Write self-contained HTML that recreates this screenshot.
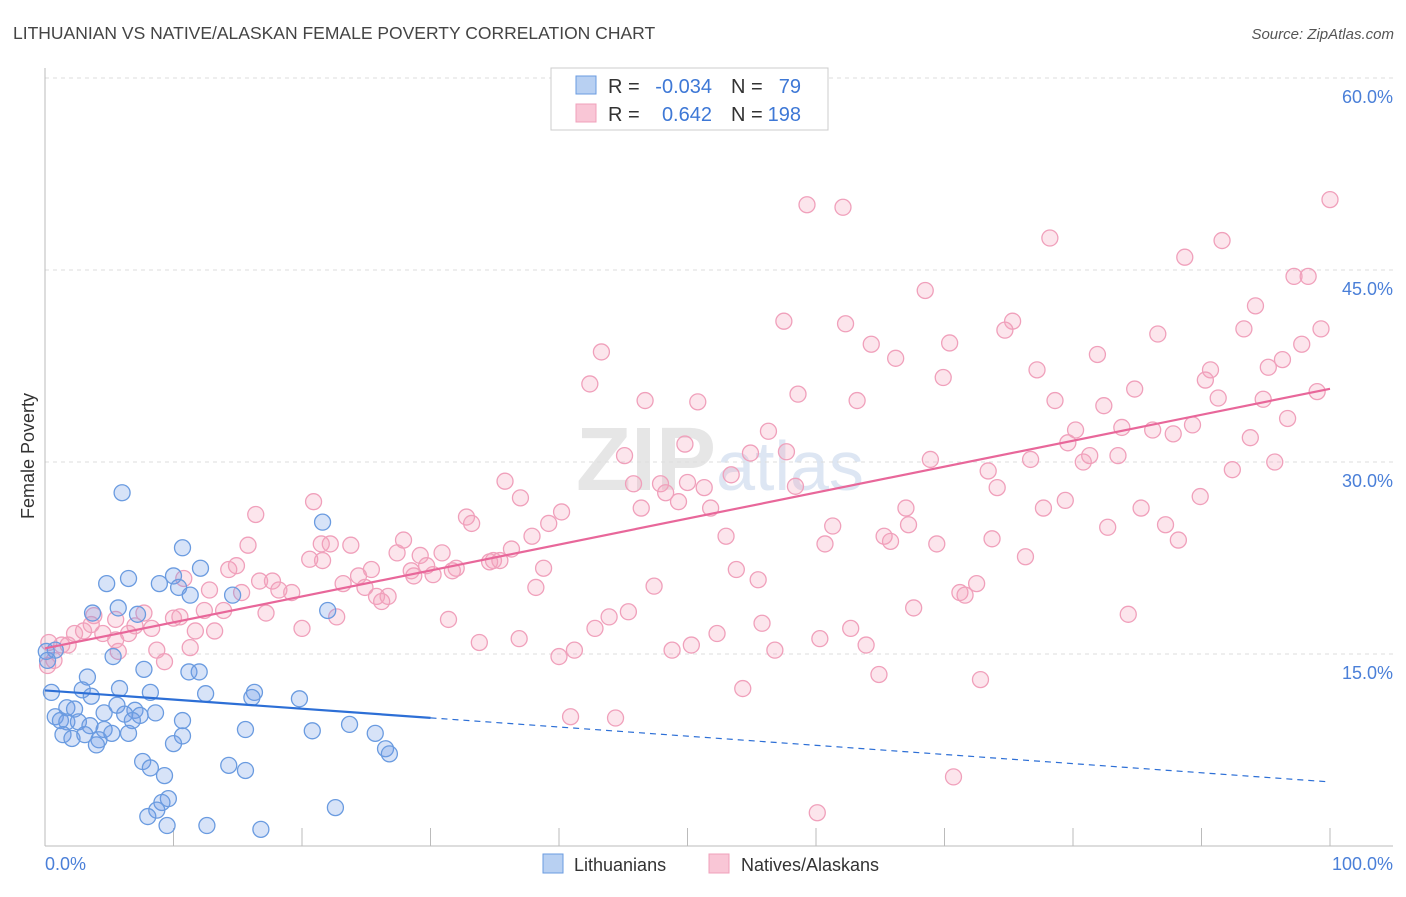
<!DOCTYPE html>
<html><head><meta charset="utf-8"><style>
body{margin:0;background:#fff;font-family:"Liberation Sans",sans-serif;}
svg text{font-family:"Liberation Sans",sans-serif;}
</style></head><body>
<svg id="chart" width="1406" height="892" xmlns="http://www.w3.org/2000/svg">
<text x="13" y="39" font-size="17.5" fill="#444">LITHUANIAN VS NATIVE/ALASKAN FEMALE POVERTY CORRELATION CHART</text>
<text x="1394" y="39" font-size="15" fill="#555" text-anchor="end" font-style="italic">Source: ZipAtlas.com</text>
<text x="720" y="490" font-size="90" fill="#e6e6e6" text-anchor="middle" font-family="Liberation Serif"><tspan font-weight="bold">ZIP</tspan><tspan fill="#dde6f3" font-family="Liberation Sans" font-size="70">atlas</tspan></text>
<g id="grid"></g>
<g id="axes"></g>
<g id="pts"></g>
<g id="lines"></g>
<text transform="translate(34,456) rotate(-90)" font-size="18" fill="#333" text-anchor="middle">Female Poverty</text>
<text x="45" y="870" font-size="18" fill="#4a7fd8">0.0%</text>
<text x="1393" y="870" font-size="18" fill="#4a7fd8" text-anchor="end">100.0%</text>
<g>
<rect x="551" y="68" width="277" height="62" fill="#fff" stroke="#ccc"/>
<rect x="576" y="76" width="20" height="18" fill="#b8d0f2" stroke="#6a9be0"/>
<rect x="576" y="104" width="20" height="18" fill="#f9c6d6" stroke="#f0a0bb"/>
<text x="608" y="93" font-size="20" fill="#333">R =</text>
<text x="712" y="93" font-size="20" fill="#3e78d6" text-anchor="end">-0.034</text>
<text x="731" y="93" font-size="20" fill="#333">N =</text>
<text x="801" y="93" font-size="20" fill="#3e78d6" text-anchor="end">79</text>
<text x="608" y="121" font-size="20" fill="#333">R =</text>
<text x="712" y="121" font-size="20" fill="#3e78d6" text-anchor="end">0.642</text>
<text x="731" y="121" font-size="20" fill="#333">N =</text>
<text x="801" y="121" font-size="20" fill="#3e78d6" text-anchor="end">198</text>
</g>
<g><rect x="543" y="854" width="20" height="19" fill="#b8d0f2" stroke="#6a9be0"/><text x="574" y="871" font-size="18" fill="#333">Lithuanians</text></g>
<g><rect x="709" y="854" width="20" height="19" fill="#f9c6d6" stroke="#f0a0bb"/><text x="741" y="871" font-size="18" fill="#333">Natives/Alaskans</text></g>
</svg>
<script>
const yTicks=[15,30,45,60];
const yTickLabels=["15.0%","30.0%","45.0%","60.0%"];
const blueX=[6.0,10.7,6.5,4.8,8.9,10.0,12.1,10.4,11.3,14.6,21.6,3.7,5.7,7.2,22.0,5.3,7.7,11.2,12.0,3.3,0.8,0.5,2.9,3.6,5.8,8.2,12.5,16.3,19.8,16.1,1.7,2.3,4.6,5.6,7.0,6.2,7.4,8.6,0.8,1.2,1.7,2.6,10.7,6.8,3.5,4.6,5.2,1.4,2.1,3.1,4.2,6.5,10.7,15.6,20.8,23.7,25.7,4.0,10.0,26.5,26.8,7.6,8.2,9.3,14.3,15.6,9.6,9.1,8.7,8.0,9.5,12.6,16.8,22.6,0.2,0.1];
const blueY=[27.6,23.3,20.9,20.5,20.5,21.1,21.7,20.2,19.6,19.6,25.3,18.2,18.6,18.1,18.4,14.8,13.8,13.6,13.6,13.2,15.3,12.0,12.2,11.7,12.3,12.0,11.9,12.0,11.5,11.6,10.8,10.7,10.4,11.0,10.6,10.3,10.2,10.4,10.1,9.8,9.7,9.7,9.8,9.8,9.4,9.1,8.8,8.7,8.4,8.7,8.3,8.8,8.6,9.1,9.0,9.5,8.8,7.9,8.0,7.6,7.2,6.6,6.1,5.5,6.3,5.9,3.7,3.4,2.8,2.3,1.6,1.6,1.3,3.0,14.5,15.2];
const pinkX=[100,59.3,62.1,78.2,91.6,88.7,97.2,98.3,68.5,94.2,57.5,75.3,62.3,74.7,93.3,99.3,86.6,64.3,70.4,97.8,43.3,66.2,81.9,96.3,95.2,77.2,90.7,69.9,90.3,42.4,84.8,58.6,63.2,78.6,91.3,94.8,99.0,46.7,50.8,82.4,96.7,56.3,80.2,83.8,86.2,89.3,79.6,49.8,54.9,57.7,93.8,81.3,83.5,87.8,80.8,76.7,68.9,45.1,95.7,92.4,73.4,53.4,45.8,47.9,35.8,50.0,48.3,51.3,58.4,74.1,37.0,49.3,20.9,51.8,89.9,79.4,32.8,33.2,46.4,67.0,77.7,85.3,16.4,40.2,67.2,61.3,39.2,82.7,87.2,37.9,65.3,53.0,65.8,60.7,69.4,73.7,88.2,15.8,21.5,22.2,23.8,27.9,36.3,27.4,20.6,21.6,29.2,30.9,34.9,34.6,35.4,76.3,14.9,14.3,25.4,28.5,29.7,32.0,38.8,53.8,30.2,31.7,28.7,10.8,16.7,17.7,24.4,23.2,55.5,72.5,47.4,38.2,18.2,19.2,24.9,26.7,25.8,26.2,15.3,12.8,71.2,71.6,67.6,12.4,13.9,17.2,7.7,22.7,43.9,45.4,84.3,10.0,10.5,31.4,3.8,5.5,20.0,3.6,7.0,8.3,11.7,13.2,55.8,42.8,62.7,52.3,60.3,36.9,2.3,3.0,4.5,6.5,5.5,1.3,1.8,33.8,63.9,11.3,5.7,8.7,41.2,48.8,50.3,56.8,40.0,9.3,0.7,0.2,64.9,72.8,54.3,40.9,44.4,70.7,60.1,0.3];
const pinkY=[50.5,50.1,49.9,47.5,47.3,46.0,44.5,44.5,43.4,42.2,41.0,41.0,40.8,40.3,40.4,40.4,40.0,39.2,39.3,39.2,38.6,38.1,38.4,38.0,37.4,37.2,37.2,36.6,36.4,36.1,35.7,35.3,34.8,34.8,35.0,34.9,35.5,34.8,34.7,34.4,33.4,32.4,32.5,32.7,32.5,32.9,31.5,31.4,30.7,30.8,31.9,30.5,30.5,32.2,30.0,30.2,30.2,30.5,30.0,29.4,29.3,29.0,28.3,28.3,28.5,28.4,27.6,28.0,28.1,28.0,27.2,26.9,26.9,26.4,27.3,27.0,25.7,25.2,26.4,26.4,26.4,26.4,25.9,26.1,25.1,25.0,25.2,24.9,25.1,24.2,24.2,24.2,23.8,23.6,23.6,24.0,23.9,23.5,23.6,23.6,23.5,23.9,23.2,22.9,22.4,22.3,22.7,22.9,22.3,22.2,22.3,22.6,21.9,21.6,21.6,21.5,21.9,21.7,21.7,21.6,21.2,21.5,21.1,20.9,20.7,20.7,21.1,20.5,20.8,20.5,20.3,20.2,20.0,19.8,20.2,19.5,19.5,19.1,19.8,20.0,19.8,19.6,18.6,18.4,18.4,18.2,18.2,17.9,17.9,18.3,18.1,17.8,17.9,17.7,18.0,17.7,17.0,17.3,17.2,17.0,16.8,16.8,17.4,17.0,17.0,16.6,16.2,16.2,16.6,16.8,16.6,16.6,16.1,15.7,15.7,15.9,15.7,15.5,15.2,15.3,15.3,15.3,15.7,15.3,14.8,14.4,14.5,14.1,13.4,13.0,12.3,10.1,10.0,5.4,2.6,15.9];
const NS="http://www.w3.org/2000/svg";
const X0=45,X1=1330,Y0=846,Y60=78;
function sx(v){return X0+(X1-X0)*v/100;}
function sy(v){return Y0-(Y0-Y60)*v/60;}
function mk(tag,attrs,parent){const e=document.createElementNS(NS,tag);for(const k in attrs)e.setAttribute(k,attrs[k]);parent.appendChild(e);return e;}
const grid=document.getElementById('grid'),axes=document.getElementById('axes'),pts=document.getElementById('pts'),lines=document.getElementById('lines');
yTicks.forEach((t,i)=>{
  const l=mk('line',{x1:45,x2:1393,y1:sy(t),y2:sy(t),stroke:'#ddd','stroke-dasharray':'4,4'},grid);
  
  
  const tx=mk('text',{x:1393,y:sy(t)+25,'font-size':18,fill:'#4a7fd8','text-anchor':'end'},grid);
  tx.textContent=yTickLabels[i];
  
  
});
let a=mk('line',{x1:45,x2:45,y1:68,y2:846,stroke:'#bbb'},axes);


a=mk('line',{x1:45,x2:1393,y1:846,y2:846,stroke:'#bbb'},axes);


for(let i=0;i<=10;i++){
  const tk=mk('line',{x1:sx(i*10),x2:sx(i*10),y1:828,y2:846,stroke:'#bbb'},axes);
  
  
}
function draw(xs,ys,fill,stroke,name){
  xs.forEach((x,i)=>{
    const c=mk('circle',{cx:sx(x),cy:sy(ys[i]),r:8,fill:fill,stroke:stroke,'stroke-width':1.3},pts);
    
    
  });
}
draw(pinkX,pinkY,'rgba(244,160,188,0.28)','#f0a0bb','native-point');
draw(blueX,blueY,'rgba(110,155,230,0.28)','#6a9be0','lithuanian-point');
function reg(xs,ys){const n=xs.length;let mx=0,my=0;for(let i=0;i<n;i++){mx+=xs[i];my+=ys[i];}mx/=n;my/=n;let sxy=0,sxx=0;for(let i=0;i<n;i++){sxy+=(xs[i]-mx)*(ys[i]-my);sxx+=(xs[i]-mx)**2;}const b=sxy/sxx;return [my-b*mx,b];}
const [pa,pb]=reg(pinkX,pinkY);
let ln=mk('line',{x1:sx(0),y1:sy(pa),x2:sx(100),y2:sy(pa+pb*100),stroke:'#e8679a','stroke-width':2.2},lines);


const [ba,bb]=reg(blueX,blueY);
ln=mk('line',{x1:sx(0),y1:sy(ba),x2:sx(30),y2:sy(ba+bb*30),stroke:'#2d6fd6','stroke-width':2.2},lines);


ln=mk('line',{x1:sx(30),y1:sy(ba+bb*30),x2:sx(100),y2:sy(ba+bb*100),stroke:'#2d6fd6','stroke-width':1.2,'stroke-dasharray':'6,5'},lines);


</script>
</body></html>
